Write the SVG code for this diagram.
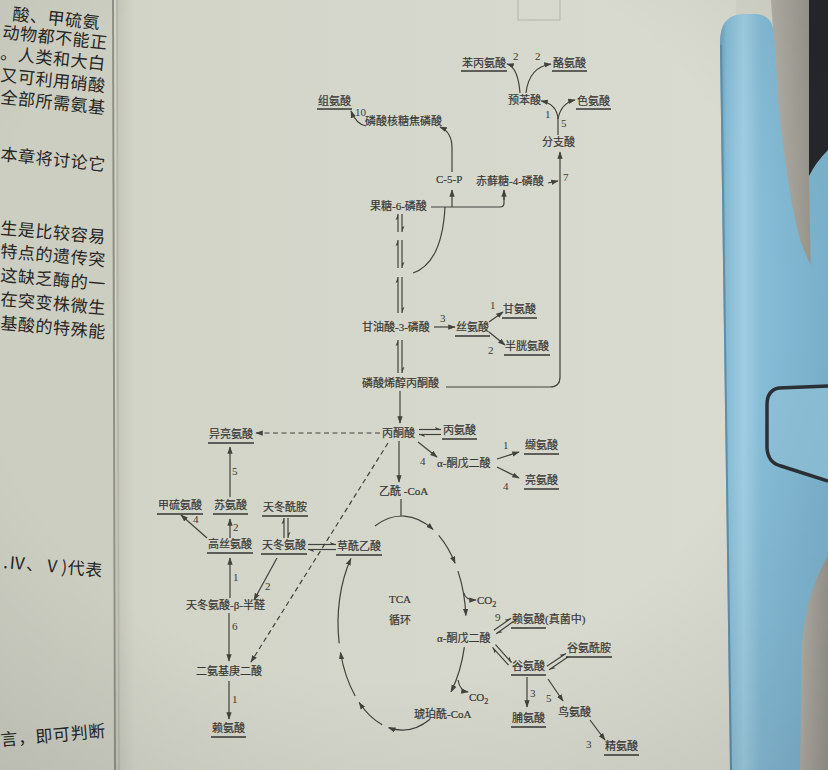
<svg xmlns="http://www.w3.org/2000/svg" width="828" height="770" viewBox="0 0 828 770">
<defs>
<style>
.t{font-family:"Liberation Serif","Noto Sans CJK SC",serif;font-size:11px;fill:#383835;stroke:#383835;stroke-width:0.2}
.n{font-family:"Liberation Serif",serif;font-size:11px;fill:#3a3a37}
.lp{font-family:"Noto Sans CJK SC",sans-serif;font-size:17px;fill:#262624;letter-spacing:0.6px}
.c{fill:none;stroke:#41413d;stroke-width:1.2}
.u{stroke:#363633;stroke-width:1.4}
.d{stroke-dasharray:5 3.5}
.a{marker-end:url(#ah)}
.h{marker-end:url(#hp)}
</style>
<marker id="ah" viewBox="0 0 10 10" refX="9" refY="5" markerWidth="7.5" markerHeight="7.5" orient="auto" markerUnits="userSpaceOnUse"><path d="M0,1.5 L10,5 L0,8.5 Z" fill="#41413d"/></marker>
<marker id="hp" viewBox="0 0 10 10" refX="10" refY="5" markerWidth="6" markerHeight="6" orient="auto" markerUnits="userSpaceOnUse"><path d="M10,5 L0,1 L2,5 Z" fill="#41413d"/></marker>
<linearGradient id="pg" x1="0" y1="0" x2="1" y2="0">
<stop offset="0" stop-color="#c4c5b9"/><stop offset="0.03" stop-color="#d3d4c8"/><stop offset="1" stop-color="#dadbd0"/>
</linearGradient>
<linearGradient id="bl" x1="0" y1="0" x2="1" y2="0">
<stop offset="0" stop-color="#6a9db8"/><stop offset="0.06" stop-color="#84bad4"/><stop offset="0.22" stop-color="#a0cde1"/><stop offset="0.38" stop-color="#86bcd6"/><stop offset="1" stop-color="#7cb2cd"/>
</linearGradient>
<linearGradient id="gs" x1="0" y1="0" x2="1" y2="0">
<stop offset="0" stop-color="#b3b0a7"/><stop offset="1" stop-color="#99968e"/>
</linearGradient>
<radialGradient id="vg" cx="0.45" cy="0.4" r="0.8">
<stop offset="0.6" stop-color="#000" stop-opacity="0"/><stop offset="1" stop-color="#000" stop-opacity="0.1"/>
</radialGradient>
</defs>

<rect x="0" y="0" width="828" height="770" fill="#d4d5c9"/>
<rect x="0" y="0" width="114" height="770" fill="#cdcec2"/>
<rect x="116" y="0" width="620" height="770" fill="url(#pg)"/>
<line x1="113" y1="0" x2="115" y2="770" stroke="#8e8f86" stroke-width="2"/>
<line x1="117" y1="0" x2="119" y2="770" stroke="#b3b4a9" stroke-width="1.5"/>
<rect x="518" y="-2" width="42" height="22" fill="none" stroke="#b4b5aa" stroke-width="1"/>

<g id="left-page">
<text class="lp" x="12" y="20" transform="rotate(6 12 20)">酸、甲硫氨</text>
<text class="lp" x="2" y="38" transform="rotate(6 2 38)">动物都不能正</text>
<text class="lp" x="0" y="59" transform="rotate(6 0 59)">。人类和大白</text>
<text class="lp" x="0" y="81" transform="rotate(6 0 81)">又可利用硝酸</text>
<text class="lp" x="0" y="103" transform="rotate(6 0 103)">全部所需氨基</text>
<text class="lp" x="0" y="160" transform="rotate(6 0 160)">本章将讨论它</text>
<text class="lp" x="0" y="234" transform="rotate(5 0 234)">生是比较容易</text>
<text class="lp" x="0" y="257" transform="rotate(5 0 257)">特点的遗传突</text>
<text class="lp" x="0" y="281" transform="rotate(5 0 281)">这缺乏酶的一</text>
<text class="lp" x="0" y="305" transform="rotate(5 0 305)">在突变株微生</text>
<text class="lp" x="0" y="329" transform="rotate(5 0 329)">基酸的特殊能</text>
<text class="lp" x="3" y="568" transform="rotate(5 3 568)">.Ⅳ、Ⅴ)代表</text>
<text class="lp" x="1" y="746" transform="rotate(-5 1 746)">言，即可判断</text>
</g>

<g id="clip">
<rect x="776" y="0" width="52" height="770" fill="#7db4cf"/>
<path d="M808 0 L828 0 L828 150 Q816 162 809 176 Z" fill="#25272b"/>
<path d="M771 0 L809 0 L809 176 L811 282 L790 282 Z" fill="url(#gs)"/>
<path d="M828 556 Q806 590 801 650 L800 770 L828 770 Z" fill="url(#gs)"/>
<path d="M730 770 L720 45 Q719 15 742 14 L756 14 Q773 15 774 35 L778 100 Q782 140 786 167 Q792 210 800 240 Q808 262 815 272 Q821 290 828 318 L828 556 Q806 590 801 650 L800 770 Z" fill="url(#bl)"/>
<path d="M731 770 L721 45" stroke="#5f8fa8" stroke-width="2" fill="none"/>
<path d="M828 386 L779 388 Q767 390 767 405 L767 448 Q768 463 781 466 L828 481" fill="#8cc0d7" stroke="#2b3036" stroke-width="3.5"/>
</g>

<g id="connectors">
<path class="c a" d="M520 93 Q518 67 507 64"/>
<path class="c a" d="M526 93 Q529 67 551 64"/>
<path class="c" d="M558 135 L558 119"/>
<path class="c a" d="M558 119 Q557 104 541 101"/>
<path class="c a" d="M558 119 Q561 103 575 100"/>
<path class="c a" d="M366 126 Q356 124 351 111"/>
<path class="c a" d="M452 172 L452 148 Q452 132 440 127"/>
<path class="c" d="M431 207 L500 207 Q504 207 504 203 L504 197"/>
<path class="c a" d="M504 200 L504 190"/>
<path class="c a" d="M452 207 L452 190"/>
<path class="c" d="M413 273 Q442 263 445 207"/>
<g transform="translate(400 214) rotate(90)"><line class="c h" x1="0" y1="-2" x2="18" y2="-2"/><line class="c h" x1="18" y1="2" x2="0" y2="2"/></g>
<g transform="translate(400 240) rotate(90)"><line class="c h" x1="0" y1="-2" x2="28" y2="-2"/><line class="c h" x1="28" y1="2" x2="0" y2="2"/></g>
<g transform="translate(400 277) rotate(90)"><line class="c h" x1="0" y1="-2" x2="36" y2="-2"/><line class="c h" x1="36" y1="2" x2="0" y2="2"/></g>
<g transform="translate(400 340) rotate(90)"><line class="c h" x1="0" y1="-2" x2="33" y2="-2"/><line class="c h" x1="33" y1="2" x2="0" y2="2"/></g>
<path class="c a" d="M400 391 L400 423"/>
<path class="c a" d="M446 387 L550 387 Q560 387 560 377 L560 152"/>
<path class="c a" d="M548 183 L558 181"/>
<path class="c a" d="M434 327 L455 327"/>
<path class="c a" d="M489 322 L503 312"/>
<path class="c a" d="M489 332 L505 345"/>
<g transform="translate(419 432)"><line class="c h" x1="0" y1="-2.5" x2="22" y2="-2.5"/><line class="c h" x1="22" y1="2.5" x2="0" y2="2.5"/></g>
<path class="c d a" d="M380 433 L256 433"/>
<path class="c a" d="M418 442 L437 457"/>
<path class="c a" d="M497 459 L519 452"/>
<path class="c a" d="M497 467 L519 478"/>
<path class="c a" d="M399 441 L399 482"/>
<path class="c" d="M401 499 L401 516"/>
<path class="c d a" d="M388 443 L251 662"/>
<path class="c a" d="M374.95 526.03 A64 107 0 0 1 433.03 529.42"/>
<path class="c a" d="M438.71 535.35 A64 107 0 0 1 455.06 563.17"/>
<path class="c a" d="M457.97 571.13 A64 107 0 0 1 465.85 615.53"/>
<path class="c a" d="M464.36 647.07 A64 107 0 0 1 451.03 691.78"/>
<path class="c a" d="M430.06 719.17 A64 107 0 0 1 388.69 727.66"/>
<path class="c a" d="M382.22 724.77 A64 107 0 0 1 359.18 702.51"/>
<path class="c a" d="M355.19 695.97 A64 107 0 0 1 340.48 652.49"/>
<path class="c a" d="M339.18 643.42 A64 107 0 0 1 350.89 558.61"/>
<path class="c a" d="M464 593 Q465 600 476 600"/>
<path class="c a" d="M458 680 Q460 691 468 692"/>
<g transform="translate(495 632) rotate(-35)"><line class="c h" x1="0" y1="-2" x2="21" y2="-2"/><line class="c h" x1="21" y1="2" x2="0" y2="2"/></g>
<g transform="translate(494 646) rotate(48)"><line class="c h" x1="0" y1="-2" x2="24" y2="-2"/><line class="c h" x1="24" y1="2" x2="0" y2="2"/></g>
<g transform="translate(548 668) rotate(-34)"><line class="c h" x1="0" y1="-2" x2="23" y2="-2"/><line class="c h" x1="23" y1="2" x2="0" y2="2"/></g>
<path class="c a" d="M527 677 L527 707"/>
<path class="c a" d="M548 679 L563 701"/>
<path class="c a" d="M590 720 L605 740"/>
<path class="c a" d="M230 497 L230 447"/>
<path class="c a" d="M230 538 L230 519"/>
<path class="c a" d="M207 538 L181 515"/>
<g transform="translate(286 518) rotate(90)"><line class="c h" x1="0" y1="-2" x2="20" y2="-2"/><line class="c h" x1="20" y1="2" x2="0" y2="2"/></g>
<g transform="translate(308 547)"><line class="c h" x1="0" y1="-2.5" x2="28" y2="-2.5"/><line class="c h" x1="28" y1="2.5" x2="0" y2="2.5"/></g>
<path class="c a" d="M277 558 L254 600"/>
<path class="c a" d="M230 598 L230 558"/>
<path class="c a" d="M229 613 L229 661"/>
<path class="c a" d="M229 681 L229 719"/>
</g>

<g id="phe"><text class="t" x="462" y="67">苯丙氨酸</text><line class="u" x1="461" y1="71" x2="507" y2="71"/></g>
<g id="tyr"><text class="t" x="553" y="67">酪氨酸</text><line class="u" x1="552" y1="71" x2="587" y2="71"/></g>
<g id="prephenate"><text class="t" x="508" y="104">预苯酸</text></g>
<g id="trp"><text class="t" x="577" y="105">色氨酸</text><line class="u" x1="576" y1="109" x2="611" y2="109"/></g>
<g id="chorismate"><text class="t" x="542" y="146">分支酸</text></g>
<g id="his"><text class="t" x="318" y="105">组氨酸</text><line class="u" x1="317" y1="109" x2="352" y2="109"/></g>
<g id="prpp"><text class="t" x="365" y="125">磷酸核糖焦磷酸</text></g>
<g id="c5p"><text class="t" x="436" y="183">C-5-P</text></g>
<g id="e4p"><text class="t" x="476" y="185">赤藓糖-4-磷酸</text></g>
<g id="f6p"><text class="t" x="370" y="210">果糖-6-磷酸</text></g>
<g id="g3p"><text class="t" x="362" y="331">甘油酸-3-磷酸</text></g>
<g id="ser"><text class="t" x="456" y="331">丝氨酸</text><line class="u" x1="455" y1="336" x2="490" y2="336"/></g>
<g id="gly"><text class="t" x="503" y="313">甘氨酸</text><line class="u" x1="502" y1="318" x2="537" y2="318"/></g>
<g id="cys"><text class="t" x="505" y="350">半胱氨酸</text><line class="u" x1="504" y1="355" x2="550" y2="355"/></g>
<g id="pep"><text class="t" x="362" y="387">磷酸烯醇丙酮酸</text></g>
<g id="pyr"><text class="t" x="382" y="437">丙酮酸</text></g>
<g id="ala"><text class="t" x="443" y="434">丙氨酸</text><line class="u" x1="442" y1="439" x2="477" y2="439"/></g>
<g id="ile"><text class="t" x="209" y="438">异亮氨酸</text><line class="u" x1="208" y1="443" x2="254" y2="443"/></g>
<g id="akg2"><text class="t" x="437" y="467">α-酮戊二酸</text></g>
<g id="val"><text class="t" x="525" y="449">缬氨酸</text><line class="u" x1="524" y1="454" x2="559" y2="454"/></g>
<g id="leu"><text class="t" x="525" y="484">亮氨酸</text><line class="u" x1="524" y1="489" x2="559" y2="489"/></g>
<g id="acoa"><text class="t" x="379" y="495">乙酰 -CoA</text></g>
<g id="met"><text class="t" x="158" y="509">甲硫氨酸</text><line class="u" x1="157" y1="514" x2="203" y2="514"/></g>
<g id="thr"><text class="t" x="214" y="509">苏氨酸</text><line class="u" x1="213" y1="514" x2="248" y2="514"/></g>
<g id="asn"><text class="t" x="263" y="511">天冬酰胺</text><line class="u" x1="262" y1="516" x2="308" y2="516"/></g>
<g id="hse"><text class="t" x="208" y="548">高丝氨酸</text><line class="u" x1="207" y1="553" x2="253" y2="553"/></g>
<g id="asp"><text class="t" x="262" y="549">天冬氨酸</text><line class="u" x1="261" y1="554" x2="307" y2="554"/></g>
<g id="oaa"><text class="t" x="337" y="550">草酰乙酸</text><line class="u" x1="336" y1="555" x2="382" y2="555"/></g>
<g id="tca"><text class="t" x="400" y="603" text-anchor="middle">TCA</text><text class="t" x="400" y="624" text-anchor="middle">循环</text></g>
<g id="asa"><text class="t" x="186" y="609">天冬氨酸-β-半醛</text></g>
<g id="dap"><text class="t" x="196" y="675">二氨基庚二酸</text></g>
<g id="lys1"><text class="t" x="212" y="732">赖氨酸</text><line class="u" x1="211" y1="737" x2="246" y2="737"/></g>
<g id="co2a"><text class="t" x="477" y="604">CO<tspan font-size="8" dy="3">2</tspan></text></g>
<g id="akg"><text class="t" x="437" y="642">α-酮戊二酸</text></g>
<g id="lys2"><text class="t" x="512" y="623">赖氨酸(真菌中)</text><line class="u" x1="511" y1="628" x2="546" y2="628"/></g>
<g id="gln"><text class="t" x="567" y="652">谷氨酰胺</text><line class="u" x1="566" y1="657" x2="612" y2="657"/></g>
<g id="glu"><text class="t" x="512" y="670">谷氨酸</text><line class="u" x1="511" y1="675" x2="546" y2="675"/></g>
<g id="co2b"><text class="t" x="469" y="701">CO<tspan font-size="8" dy="3">2</tspan></text></g>
<g id="succoa"><text class="t" x="414" y="718">琥珀酰-CoA</text></g>
<g id="pro"><text class="t" x="512" y="722">脯氨酸</text><line class="u" x1="511" y1="727" x2="546" y2="727"/></g>
<g id="orn"><text class="t" x="558" y="716">鸟氨酸</text></g>
<g id="arg"><text class="t" x="605" y="750">精氨酸</text><line class="u" x1="604" y1="755" x2="639" y2="755"/></g>

<g id="labels">
<text class="n" x="513" y="60">2</text><text class="n" x="535" y="60">2</text>
<text class="n" x="545" y="118">1</text><text class="n" x="561" y="127">5</text>
<text class="n" x="355" y="116">10</text><text class="n" x="563" y="181">7</text>
<text class="n" x="440" y="322">3</text><text class="n" x="490" y="309">1</text><text class="n" x="488" y="354">2</text>
<text class="n" x="420" y="465">4</text><text class="n" x="503" y="449">1</text><text class="n" x="503" y="490">4</text>
<text class="n" x="232" y="475">5</text><text class="n" x="233" y="531">2</text><text class="n" x="193" y="523">4</text>
<text class="n" x="233" y="581">1</text><text class="n" x="265" y="590">2</text><text class="n" x="232" y="630">6</text>
<text class="n" x="232" y="703">1</text><text class="n" x="495" y="621">9</text><text class="n" x="530" y="697">3</text>
<text class="n" x="546" y="702">5</text><text class="n" x="586" y="748">3</text>
</g>
<rect x="0" y="0" width="828" height="770" fill="url(#vg)" pointer-events="none"/>
</svg>
